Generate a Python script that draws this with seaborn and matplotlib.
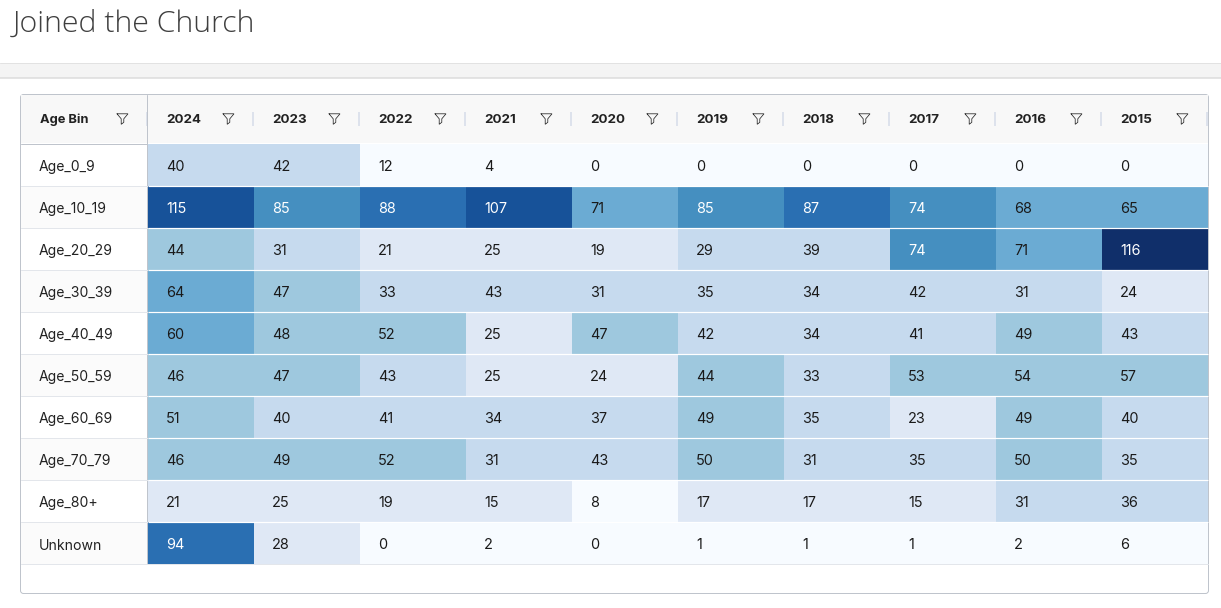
import numpy as np
import pandas as pd
import seaborn as sns
import matplotlib
matplotlib.use("Agg")
import matplotlib.pyplot as plt
from matplotlib.colors import ListedColormap, BoundaryNorm
from matplotlib.patches import FancyBboxPatch, Rectangle

title = "Joined the Church"
first_col = "Age Bin"
years = ["2024", "2023", "2022", "2021", "2020", "2019", "2018", "2017", "2016", "2015"]
age_bins = ["Age_0_9", "Age_10_19", "Age_20_29", "Age_30_39", "Age_40_49",
            "Age_50_59", "Age_60_69", "Age_70_79", "Age_80+", "Unknown"]

age_0_9 = [40, 42, 12, 4, 0, 0, 0, 0, 0, 0]
age_10_19 = [115, 85, 88, 107, 71, 85, 87, 74, 68, 65]
age_20_29 = [44, 31, 21, 25, 19, 29, 39, 74, 71, 116]
age_30_39 = [64, 47, 33, 43, 31, 35, 34, 42, 31, 24]
age_40_49 = [60, 48, 52, 25, 47, 42, 34, 41, 49, 43]
age_50_59 = [46, 47, 43, 25, 24, 44, 33, 53, 54, 57]
age_60_69 = [51, 40, 41, 34, 37, 49, 35, 23, 49, 40]
age_70_79 = [46, 49, 52, 31, 43, 50, 31, 35, 50, 35]
age_80 = [21, 25, 19, 15, 8, 17, 17, 15, 31, 36]
unknown = [94, 28, 0, 2, 0, 1, 1, 1, 2, 6]

df = pd.DataFrame([age_0_9, age_10_19, age_20_29, age_30_39, age_40_49,
                   age_50_59, age_60_69, age_70_79, age_80, unknown],
                  index=age_bins, columns=years)

# the table colours in 8 equal steps of the max, plus one for the max itself
blues = ["#f7fbff", "#dfe8f5", "#c6daee", "#9ec8de", "#6babd3",
         "#458fc0", "#2a6fb2", "#175299", "#102f6a"]
step = df.values.max() / 8
bounds = [step * i for i in range(9)] + [df.values.max() + 1]
cmap = ListedColormap(blues)
norm = BoundaryNorm(bounds, cmap.N)

W, H = 1221, 608
PX = 0.72  # one pixel in points at dpi 100
sns.set_theme(style="white")
plt.rcParams["font.family"] = ["Inter", "DejaVu Sans"]
fig = plt.figure(figsize=(W / 100, H / 100), dpi=100)

# page chrome is laid out in pixels on a full-figure axes
bg = fig.add_axes([0, 0, 1, 1])
bg.set_xlim(0, W)
bg.set_ylim(H, 0)
bg.axis("off")

bg.add_patch(Rectangle((0, 62.5), W, 15.5, fc="#f4f4f4", ec="none"))
bg.plot([0, W], [62.5, 62.5], color="#e2e2e2", lw=PX)
bg.plot([0, W], [78, 78], color="#dcdcdc", lw=1.5 * PX)
bg.text(12.5, 24, title, fontsize=21.8, family="Open Sans", color="#3f3f3f",
        va="center", ha="left", fontweight="light")

bg.add_patch(FancyBboxPatch((20.5, 94.5), 1188, 499, boxstyle="round,pad=0,rounding_size=3",
                            fc="white", ec="#bfc4cc", lw=PX))
bg.add_patch(Rectangle((21, 95), 1187, 48, fc="#f8f8f8", ec="none"))
bg.plot([21, 1208], [143.5, 143.5], color="#bfc4cc", lw=PX)
bg.plot([147.3, 147.3], [95, 564], color="#bfc4cc", lw=PX)

# row stripes and lines for the label column
for i in range(len(age_bins)):
    top = 144 + 42 * i
    if i % 2 == 1:
        bg.add_patch(Rectangle((21, top), 126, 42, fc="#fbfbfb", ec="none"))
    bg.plot([21, 1208], [top + 41.5, top + 41.5], color="#e3e6eb", lw=PX)


def funnel(x, y):
    xs = [x, x + 11, x + 6.8, x + 6.8, x + 4.2, x + 4.2, x]
    ys = [y, y, y + 5, y + 8.5, y + 10.5, y + 5, y]
    bg.plot(xs, ys, color="#222222", lw=0.75 * PX, solid_joinstyle="miter")


def header(label, left, right, size):
    bg.text(left, 120, label, fontsize=size, fontweight="bold", color="#222222",
            va="center", ha="left")
    funnel(right - 31, 113.8)
    bg.add_patch(Rectangle((right - 2.5, 112), 2, 14, fc="#dde2ec", ec="none"))


header(first_col, 39.5, 148, 9.3)
for j, y in enumerate(years):
    header(y, 148 + 106 * j + 18, 148 + 106 * (j + 1), 9.6)

# heatmap itself, 106x42 pixel cells
ax = fig.add_axes([148 / W, 1 - 563.5 / H, 1060 / W, 420 / H])
ax.patch.set_alpha(0)
sns.heatmap(df, ax=ax, cmap=cmap, norm=norm, cbar=False, annot=True, fmt="d",
            annot_kws={"fontsize": 10.4, "ha": "left"}, linewidths=0, xticklabels=False, yticklabels=True)
ax.hlines(range(1, len(age_bins)), 0, len(years), color="white", lw=1.2 * PX)

# cell numbers sit left-aligned; white only on the dark steps
for t in ax.texts:
    x, y = t.get_position()
    t.set_position((x - 0.5 + 18 / 106, y + 2.2 / 42))
    t.set_color("white" if int(t.get_text()) >= step * 5 else "#1a1a1a")

ax.set_xlabel("")
ax.set_ylabel("")
ax.tick_params(axis="y", length=0, pad=108.5 * PX, labelsize=10.1, labelcolor="#222222", rotation=0)
for lab in ax.get_yticklabels():
    lab.set_ha("left")
    lab.set_transform(lab.get_transform() + matplotlib.transforms.ScaledTranslation(-0.5 / 100, -3 / 100, fig.dpi_scale_trans))

fig.savefig("out.png", dpi=100)
